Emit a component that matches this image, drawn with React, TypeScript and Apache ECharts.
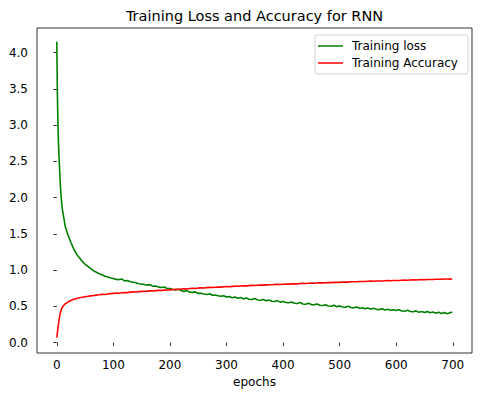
import React, { useEffect, useRef } from "react";
import * as echarts from "echarts";

const TITLE = "Training Loss and Accuracy for RNN";
const X_NAME = "epochs";
const LOSS_NAME = "Training loss";
const ACC_NAME = "Training Accuracy";

const epochs: number[] = [
  0, 1, 2, 3, 4, 5, 6, 7, 8, 9, 10,
  15, 20, 25, 30, 35, 40, 45, 50, 55, 60, 65, 70, 75, 80, 85, 90, 95,
  100, 105, 110, 115, 120, 125, 130, 135, 140, 145, 150, 155, 160, 165, 170, 175, 180, 185, 190, 195,
  200, 205, 210, 215, 220, 225, 230, 235, 240, 245, 250, 255, 260, 265, 270, 275, 280, 285, 290, 295,
  300, 305, 310, 315, 320, 325, 330, 335, 340, 345, 350, 355, 360, 365, 370, 375, 380, 385, 390, 395,
  400, 405, 410, 415, 420, 425, 430, 435, 440, 445, 450, 455, 460, 465, 470, 475, 480, 485, 490, 495,
  500, 505, 510, 515, 520, 525, 530, 535, 540, 545, 550, 555, 560, 565, 570, 575, 580, 585, 590, 595,
  600, 605, 610, 615, 620, 625, 630, 635, 640, 645, 650, 655, 660, 665, 670, 675, 680, 685, 690, 695,
  699,
];

const trainingLoss: number[] = [
  4.15, 3.45, 3.02, 2.74, 2.55, 2.38, 2.22, 2.08, 1.98, 1.9, 1.83,
  1.6, 1.48, 1.38, 1.29, 1.22, 1.17, 1.12, 1.08, 1.05, 1.02, 0.99, 0.97, 0.95, 0.935, 0.915, 0.905, 0.89,
  0.884, 0.872, 0.869, 0.876, 0.851, 0.855, 0.838, 0.832, 0.826, 0.812, 0.809, 0.801, 0.792, 0.799, 0.776, 0.781, 0.765, 0.759, 0.766, 0.746,
  0.745, 0.731, 0.726, 0.738, 0.714, 0.706, 0.717, 0.696, 0.692, 0.699, 0.678, 0.681, 0.669, 0.662, 0.673, 0.652, 0.655, 0.647, 0.638, 0.646,
  0.629, 0.634, 0.618, 0.629, 0.611, 0.621, 0.603, 0.614, 0.598, 0.594, 0.607, 0.588, 0.584, 0.594, 0.576, 0.586, 0.569, 0.566, 0.579, 0.558,
  0.566, 0.553, 0.549, 0.561, 0.543, 0.538, 0.552, 0.533, 0.529, 0.542, 0.524, 0.521, 0.532, 0.514, 0.511, 0.522, 0.505, 0.501, 0.514, 0.495,
  0.506, 0.491, 0.487, 0.501, 0.483, 0.479, 0.492, 0.473, 0.481, 0.468, 0.477, 0.463, 0.472, 0.458, 0.455, 0.467, 0.449, 0.459, 0.445, 0.453,
  0.442, 0.452, 0.436, 0.433, 0.446, 0.428, 0.425, 0.437, 0.419, 0.429, 0.416, 0.427, 0.411, 0.421, 0.405, 0.419, 0.402, 0.415, 0.398, 0.411,
  0.42,
];

const trainingAccuracy: number[] = [
  0.07, 0.13, 0.2, 0.26, 0.31, 0.36, 0.4, 0.43, 0.455, 0.475, 0.49,
  0.535, 0.562, 0.58, 0.597, 0.607, 0.618, 0.625, 0.633, 0.638, 0.644, 0.649, 0.655, 0.659, 0.665, 0.663, 0.671, 0.675,
  0.678, 0.683, 0.681, 0.688, 0.691, 0.689, 0.696, 0.699, 0.697, 0.703, 0.706, 0.704, 0.71, 0.713, 0.711, 0.717, 0.72, 0.718, 0.724, 0.726,
  0.727, 0.733, 0.735, 0.733, 0.739, 0.742, 0.74, 0.745, 0.748, 0.746, 0.752, 0.754, 0.753, 0.758, 0.761, 0.759, 0.764, 0.767, 0.765, 0.77,
  0.772, 0.771, 0.775, 0.778, 0.776, 0.781, 0.783, 0.782, 0.786, 0.789, 0.787, 0.791, 0.793, 0.792, 0.796, 0.798, 0.797, 0.801, 0.803, 0.802,
  0.805, 0.807, 0.806, 0.81, 0.811, 0.81, 0.814, 0.816, 0.815, 0.819, 0.82, 0.819, 0.822, 0.824, 0.823, 0.826, 0.828, 0.827, 0.83, 0.831,
  0.83, 0.834, 0.835, 0.834, 0.838, 0.839, 0.838, 0.842, 0.843, 0.842, 0.846, 0.847, 0.846, 0.849, 0.85, 0.849, 0.853, 0.854, 0.853, 0.856,
  0.857, 0.856, 0.86, 0.861, 0.86, 0.863, 0.865, 0.864, 0.867, 0.868, 0.867, 0.87, 0.871, 0.87, 0.873, 0.874, 0.873, 0.876, 0.877, 0.875,
  0.878,
];

const xTicks: number[] = [0, 100, 200, 300, 400, 500, 600, 700];
const yTicks: number[] = [0, 0.5, 1.0, 1.5, 2.0, 2.5, 3.0, 3.5, 4.0];

const FONT = "DejaVu Sans";

export default function App() {
  const ref = useRef<HTMLDivElement>(null);
  useEffect(() => {
    if (!ref.current) return;
    const chart = echarts.init(ref.current, undefined, { renderer: "svg" });
    const lossData = epochs.map((e, i) => [e, trainingLoss[i]]);
    const accData = epochs.map((e, i) => [e, trainingAccuracy[i]]);
    chart.setOption({
      animation: false,
      backgroundColor: "#ffffff",
      textStyle: { fontFamily: FONT },
      grid: {
        left: 37,
        right: 8,
        top: 28,
        bottom: 46,
        show: true,
        borderColor: "#000000",
        borderWidth: 0.8,
        backgroundColor: "transparent",
      },
      graphic: [
        {
          type: "text",
          x: 254.5,
          y: 16,
          style: {
            text: TITLE,
            fill: "#000000",
            font: `14.5px '${FONT}'`,
            textAlign: "center",
            textVerticalAlign: "middle",
          },
        },
      ],
      legend: {
        orient: "vertical",
        left: 315,
        top: 35,
        icon: "rect",
        itemWidth: 25,
        itemHeight: 1.5,
        itemGap: 5,
        padding: [5, 10, 5, 3],
        backgroundColor: "#ffffff",
        borderColor: "#d4d4d4",
        borderWidth: 1,
        borderRadius: 3,
        textStyle: {
          fontFamily: FONT,
          fontSize: 12,
          color: "#000000",
          padding: [0, 0, 0, 4],
        },
        data: [LOSS_NAME, ACC_NAME],
      },
      xAxis: {
        type: "value",
        min: -35,
        max: 734,
        name: X_NAME,
        nameLocation: "middle",
        nameGap: 23,
        nameTextStyle: { fontFamily: FONT, fontSize: 12, color: "#000000" },
        axisLine: { show: false },
        splitLine: { show: false },
        axisTick: {
          show: true,
          length: 3.5,
          lineStyle: { color: "#000000", width: 0.8 },
          customValues: xTicks,
        },
        axisLabel: {
          fontFamily: FONT,
          fontSize: 12,
          color: "#000000",
          margin: 6,
          customValues: xTicks,
          formatter: (v: number) => String(v),
        },
      },
      yAxis: {
        type: "value",
        min: -0.144,
        max: 4.34,
        axisLine: { show: false },
        splitLine: { show: false },
        axisTick: {
          show: true,
          length: 3.5,
          lineStyle: { color: "#000000", width: 0.8 },
          customValues: yTicks,
        },
        axisLabel: {
          fontFamily: FONT,
          fontSize: 12,
          color: "#000000",
          margin: 9,
          customValues: yTicks,
          formatter: (v: number) => v.toFixed(1),
        },
      },
      series: [
        {
          name: LOSS_NAME,
          type: "line",
          data: lossData,
          showSymbol: false,
          symbol: "none",
          lineStyle: { color: "#008000", width: 1.6 },
          itemStyle: { color: "#008000" },
        },
        {
          name: ACC_NAME,
          type: "line",
          data: accData,
          showSymbol: false,
          symbol: "none",
          lineStyle: { color: "#ff0000", width: 1.6 },
          itemStyle: { color: "#ff0000" },
        },
      ],
    });
    return () => chart.dispose();
  }, []);
  return (
    <div
      ref={ref}
      style={{ position: "fixed", left: 0, top: 0, width: 480, height: 399 }}
    />
  );
}
